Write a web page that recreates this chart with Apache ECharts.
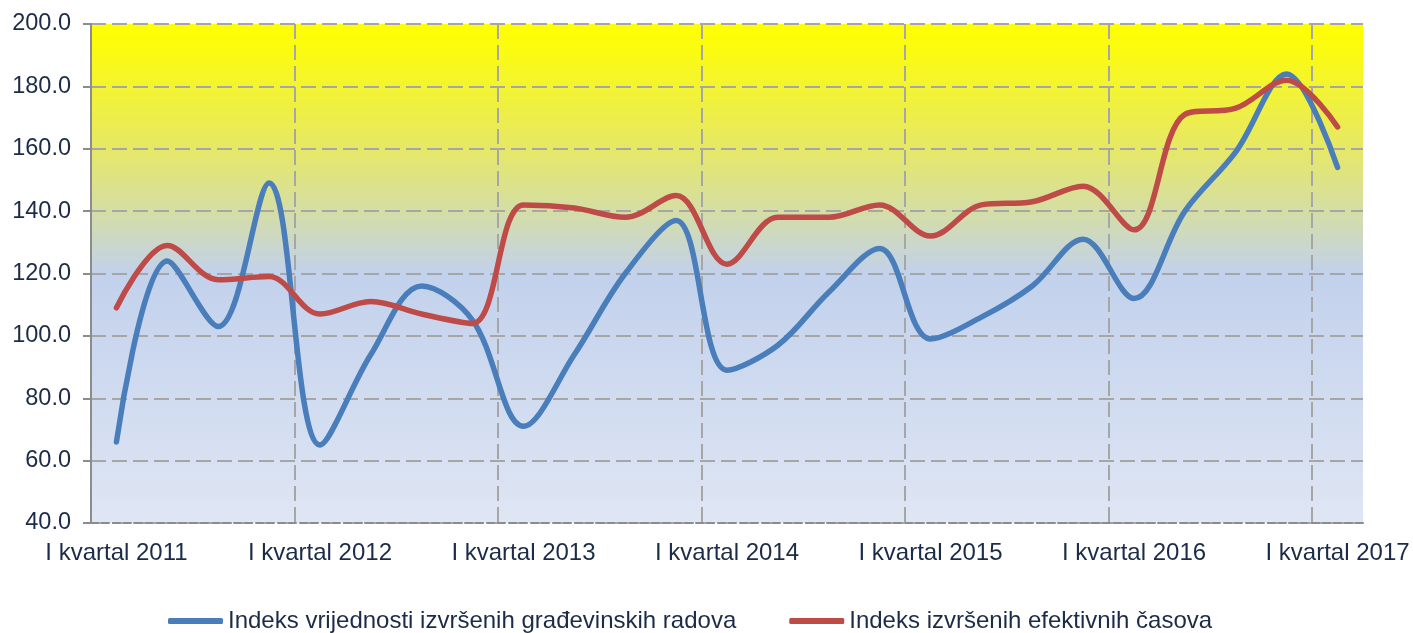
<!DOCTYPE html>
<html>
<head>
<meta charset="utf-8">
<script src="https://cdn.jsdelivr.net/npm/echarts@6/dist/echarts.min.js"></script>
<style>
  html, body { margin: 0; padding: 0; background: #fff; }
  #main { width: 1413px; height: 633px; }
</style>
</head>
<body>
<div id="main"></div>
<script>
// kvartali I 2011 .. I 2017
var quarters = [];
var roman = ['I', 'II', 'III', 'IV'];
for (var y = 2011; y <= 2017; y++) {
  for (var q = 0; q < 4; q++) {
    if (y === 2017 && q > 0) break;
    quarters.push(roman[q] + ' kvartal ' + y);
  }
}

var seriesNames = ['Indeks vrijednosti izvršenih građevinskih radova', 'Indeks izvršenih efektivnih časova'];

var vrijednost = [66, 124, 103, 149, 65, 94, 116, 105,
                  71, 94, 120, 137, 89, 97, 114, 128,
                  99, 106, 116, 131, 112, 140, 159, 184, 154];
var casovi = [109, 129, 118, 119, 107, 111, 107, 104,
              142, 141, 138, 145, 123, 138, 138, 142,
              132, 142, 143, 148, 134, 171, 173, 182, 167];

var yTicks = [40, 60, 80, 100, 120, 140, 160, 180, 200];

var textColor = '#1c2b47';
var gridColor = '#a6a6a6';

var chart = echarts.init(document.getElementById('main'));

chart.setOption({
  animation: false,
  textStyle: { fontFamily: 'Liberation Sans, Arial, sans-serif' },
  grid: {
    left: 91, right: 50, top: 24, bottom: 110,
    outerBoundsMode: 'none',
    show: true,
    borderWidth: 0,
    backgroundColor: {
      type: 'linear', x: 0, y: 0, x2: 0, y2: 1,
      colorStops: [
        { offset: 0, color: '#ffff00' },
        { offset: 0.05, color: '#fbfb10' },
        { offset: 0.25, color: '#e6e866' },
        { offset: 0.38, color: '#d4dda8' },
        { offset: 0.5, color: '#c2d1ec' },
        { offset: 1, color: '#dfe6f4' }
      ]
    }
  },
  legend: {
    left: 163,
    top: 604,
    icon: 'roundRect',
    itemWidth: 55,
    itemHeight: 6,
    itemGap: 53,
    textStyle: { fontSize: 24, color: textColor },
    data: seriesNames
  },
  xAxis: {
    type: 'category',
    data: quarters,
    boundaryGap: true,
    axisLine: { lineStyle: { color: '#8c8c8c', width: 2, type: [7, 4] } },
    axisTick: { interval: 3, length: 8, lineStyle: { color: '#8c8c8c', width: 2 } },
    axisLabel: { interval: 3, fontSize: 24, color: textColor, margin: 18 },
    splitLine: {
      show: true, interval: 3, showMinLine: false, showMaxLine: false,
      lineStyle: { color: gridColor, width: 2, type: [15, 6] }
    }
  },
  yAxis: {
    type: 'value',
    min: yTicks[0],
    max: yTicks[yTicks.length - 1],
    interval: yTicks[1] - yTicks[0],
    axisLine: { show: true, lineStyle: { color: '#8c8c8c', width: 2 } },
    axisTick: { show: true, length: 8, lineStyle: { color: '#8c8c8c', width: 2 } },
    axisLabel: {
      fontSize: 23.5, color: textColor, margin: 20,
      formatter: function (v) { return v.toFixed(1); }
    },
    splitLine: { lineStyle: { color: gridColor, width: 2, type: [15, 6] } }
  },
  series: [
    {
      name: seriesNames[0],
      type: 'line',
      data: vrijednost,
      smooth: 0.35,
      showSymbol: false,
      itemStyle: { color: '#4a7ebb' },
      lineStyle: { color: '#4a7ebb', width: 5.5, cap: 'round', join: 'round' }
    },
    {
      name: seriesNames[1],
      type: 'line',
      data: casovi,
      smooth: 0.35,
      showSymbol: false,
      itemStyle: { color: '#be4b48' },
      lineStyle: { color: '#be4b48', width: 5.5, cap: 'round', join: 'round' }
    }
  ]
});
</script>
</body>
</html>
